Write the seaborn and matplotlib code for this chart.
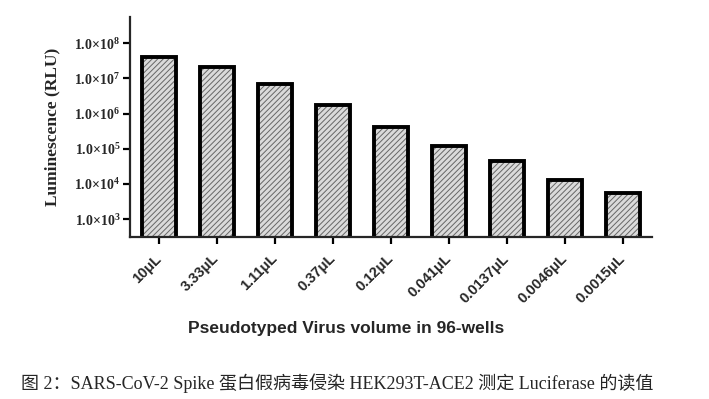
import matplotlib
matplotlib.use('Agg')
import matplotlib.pyplot as plt
import seaborn as sns
import pandas as pd

# values (log scale)
volumes = ['10μL', '3.33μL', '1.11μL', '0.37μL', '0.12μL',
           '0.041μL', '0.0137μL', '0.0046μL', '0.0015μL']
rlu = [4.0e7, 2.1e7, 6.9e6, 1.7e6, 4.2e5, 1.2e5, 4.5e4, 1.3e4, 5.4e3]
ytick_vals = [1e3, 1e4, 1e5, 1e6, 1e7, 1e8]
ytick_labels = [r'1.0×10$^{3}$', r'1.0×10$^{4}$', r'1.0×10$^{5}$',
                r'1.0×10$^{6}$', r'1.0×10$^{7}$', r'1.0×10$^{8}$']

df = pd.DataFrame({'volume': volumes, 'rlu': rlu})

sns.set_style('ticks')
plt.rcParams['font.family'] = ['Liberation Serif', 'Noto Sans CJK SC', 'DejaVu Sans']
plt.rcParams['mathtext.fontset'] = 'custom'
plt.rcParams['mathtext.rm'] = 'Liberation Serif:bold'
plt.rcParams['mathtext.bf'] = 'Liberation Serif:bold'
plt.rcParams['mathtext.default'] = 'bf'
plt.rcParams['hatch.linewidth'] = 0.7
plt.rcParams['hatch.color'] = '#666666'

fig = plt.figure(figsize=(7.09, 3.99), dpi=100)
ax = fig.add_axes([0.1834, 0.406, 0.7362, 0.551])

# hatched fill
sns.barplot(data=df, x='volume', y='rlu', color='#dadada', width=0.58,
            saturation=1, linewidth=0, ax=ax, log_scale=(False, True))
for p in ax.patches:
    p.set_hatch('//////')
    p.set_edgecolor('#666666')
    p.set_linewidth(0)
# thick black outline on top
sns.barplot(data=df, x='volume', y='rlu', color='black', width=0.58,
            fill=False, linewidth=2.8, ax=ax, err_kws={'linewidth': 0})

ax.set_yscale('log')
ax.set_ylim(10 ** 2.49, 10 ** 8.74)
ax.set_xlim(-0.5, 8.5)
ax.set_yticks(ytick_vals)
ax.set_yticklabels(ytick_labels, fontsize=10, fontweight='bold')
ax.yaxis.set_minor_locator(matplotlib.ticker.NullLocator())
ax.set_xticks(range(len(volumes)))
ax.set_xticklabels(volumes, rotation=45, ha='right', va='center', rotation_mode='anchor',
                   fontsize=10.5, fontweight='bold', family='Liberation Sans')

for s in ['top', 'right']:
    ax.spines[s].set_visible(False)
for s in ['left', 'bottom']:
    ax.spines[s].set_linewidth(1.6)
ax.tick_params(axis='both', width=1.6, length=5, color='black')
ax.tick_params(axis='x', pad=9)
ax.tick_params(axis='y', pad=2)

ax.set_xlabel('')
ax.set_ylabel('Luminescence (RLU)', fontsize=12.5, fontweight='bold', labelpad=10)

fig.text(346 / 709, 1 - 328 / 399, 'Pseudotyped Virus volume in 96-wells',
         ha='center', va='center', fontsize=12.5, fontweight='bold', family='Liberation Sans')
fig.text(337 / 709, 1 - 383 / 399,
         '图 2：SARS-CoV-2 Spike 蛋白假病毒侵染 HEK293T-ACE2 测定 Luciferase 的读值',
         ha='center', va='center', fontsize=13,
         family=['Liberation Serif', 'Noto Sans CJK SC'])

fig.savefig('out.png', dpi=100)
